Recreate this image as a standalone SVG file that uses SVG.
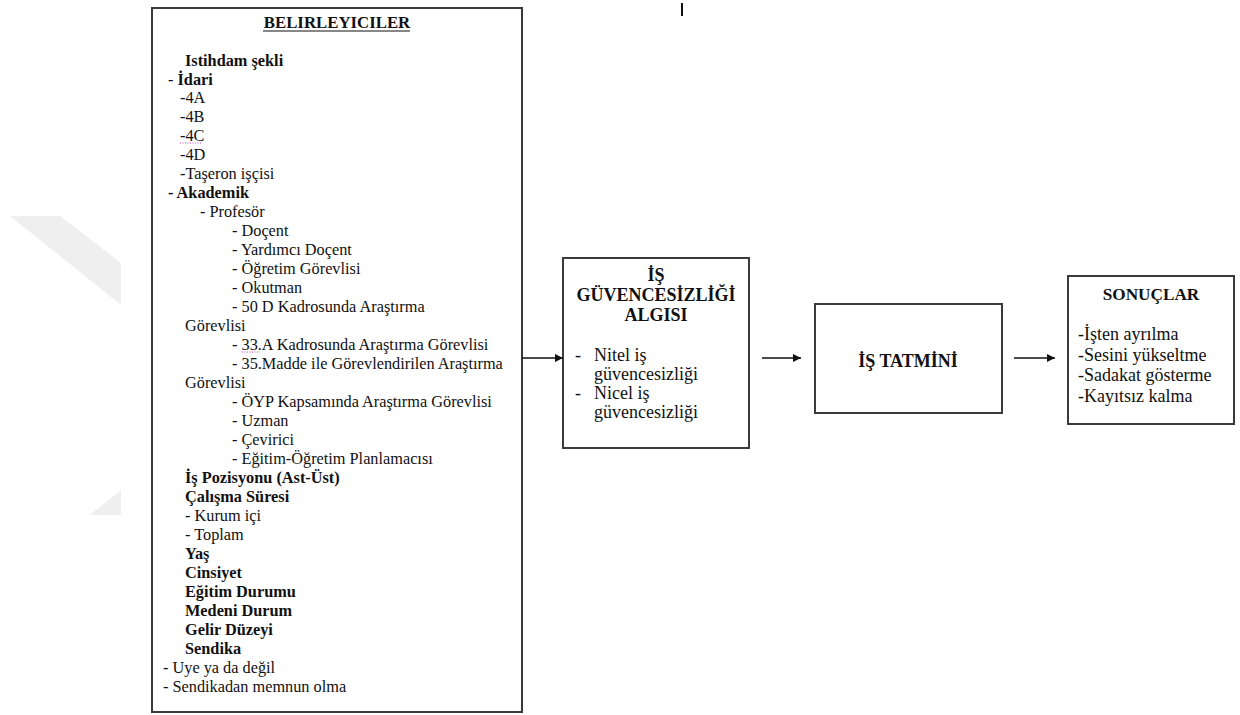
<svg xmlns="http://www.w3.org/2000/svg" width="1240" height="715" viewBox="0 0 1240 715">
<style>
.box{fill:#fff;stroke:#3a3a3a;stroke-width:2}
.t{font-family:"Liberation Serif","Times New Roman",serif;font-size:16.3px;fill:#111}
.b{font-weight:bold}
.m{font-family:"Liberation Serif","Times New Roman",serif;font-size:18px;fill:#111}
.c{text-anchor:middle}
.con{stroke:#111;stroke-width:1.5;fill:none}
.sp{stroke:#d040d0;stroke-width:1;stroke-dasharray:1,1.5}
</style>
<defs>
<marker id="ah" viewBox="0 0 10 10" refX="10" refY="5" markerWidth="9" markerHeight="8" markerUnits="userSpaceOnUse" orient="auto">
<path d="M0,0 L10,5 L0,10 z" fill="#111"/>
</marker>
</defs>
<rect width="1240" height="715" fill="#fff"/>
<g id="watermark" fill="#efefef">
<polygon points="10,216 60,216 121,263 121,305"/>
<polygon points="90,515 121,490 121,515"/>
</g>
<line x1="682" y1="3" x2="682" y2="16" stroke="#111" stroke-width="2"/>
<g id="belirleyiciler">
<rect class="box" x="152" y="8" width="370" height="704"/>
<text class="t b c" x="337" y="28" style="font-size:16.8px">BELIRLEYICILER</text>
<line x1="263" y1="31" x2="410" y2="31" stroke="#111" stroke-width="1.2"/>
<text class="t b" x="185" y="65.5">Istihdam şekli</text>
<text class="t" x="168" y="84.5">- <tspan class="b">İdari</tspan></text>
<text class="t" x="180" y="103.4">-4A</text>
<text class="t" x="180" y="122.4">-4B</text>
<text class="t" x="180" y="141.4">-4C</text>
<line class="sp" x1="180" y1="143" x2="202" y2="143"/>
<text class="t" x="180" y="160.4">-4D</text>
<text class="t" x="180" y="179.3">-Taşeron işçisi</text>
<text class="t b" x="168" y="198.3">- Akademik</text>
<text class="t" x="200" y="217.3">- Profesör</text>
<text class="t" x="232" y="236.2">- Doçent</text>
<text class="t" x="232" y="255.2">- Yardımcı Doçent</text>
<text class="t" x="232" y="274.2">- Öğretim Görevlisi</text>
<text class="t" x="232" y="293.1">- Okutman</text>
<text class="t" x="232" y="312.1">- 50 D Kadrosunda Araştırma</text>
<text class="t" x="185" y="331.1">Görevlisi</text>
<text class="t" x="232" y="350.1">- 33.A Kadrosunda Araştırma Görevlisi</text>
<line class="sp" x1="242" y1="352" x2="260" y2="352"/>
<text class="t" x="232" y="369">- 35.Madde ile Görevlendirilen Araştırma</text>
<text class="t" x="185" y="388">Görevlisi</text>
<text class="t" x="232" y="407">- ÖYP Kapsamında Araştırma Görevlisi</text>
<text class="t" x="232" y="425.9">- Uzman</text>
<text class="t" x="232" y="444.9">- Çevirici</text>
<text class="t" x="232" y="463.9">- Eğitim-Öğretim Planlamacısı</text>
<text class="t b" x="185" y="482.8">İş Pozisyonu (Ast-Üst)</text>
<text class="t b" x="185" y="501.8">Çalışma Süresi</text>
<text class="t" x="185" y="520.8">- Kurum içi</text>
<text class="t" x="185" y="539.8">- Toplam</text>
<text class="t b" x="185" y="558.7">Yaş</text>
<text class="t b" x="185" y="577.7">Cinsiyet</text>
<text class="t b" x="185" y="596.7">Eğitim Durumu</text>
<text class="t b" x="185" y="615.6">Medeni Durum</text>
<text class="t b" x="185" y="634.6">Gelir Düzeyi</text>
<text class="t b" x="185" y="653.6">Sendika</text>
<text class="t" x="163" y="672.5">- Uye ya da değil</text>
<text class="t" x="163" y="691.5">- Sendikadan memnun olma</text>
</g>
<g id="is-guvencesizligi">
<rect class="box" x="563" y="258" width="186" height="190"/>
<text class="m b c" x="656" y="281">İŞ</text>
<text class="m b c" x="656" y="301">GÜVENCESİZLİĞİ</text>
<text class="m b c" x="656" y="321">ALGISI</text>
<text class="m" x="575" y="361">-</text>
<text class="m" x="594" y="361">Nitel iş</text>
<text class="m" x="594" y="380">güvencesizliği</text>
<text class="m" x="575" y="399">-</text>
<text class="m" x="594" y="399">Nicel iş</text>
<text class="m" x="594" y="418">güvencesizliği</text>
</g>
<g id="is-tatmini">
<rect class="box" x="815" y="304" width="187" height="109"/>
<text class="m b c" x="908" y="367">İŞ TATMİNİ</text>
</g>
<g id="sonuclar">
<rect class="box" x="1068" y="276" width="166" height="148"/>
<text class="m b c" x="1151" y="300" style="font-size:17.2px">SONUÇLAR</text>
<text class="m" x="1078" y="340">-İşten ayrılma</text>
<text class="m" x="1078" y="360.5">-Sesini yükseltme</text>
<text class="m" x="1078" y="381">-Sadakat gösterme</text>
<text class="m" x="1078" y="401.5">-Kayıtsız kalma</text>
</g>
<g id="connectors">
<line class="con" x1="522" y1="358" x2="563" y2="358" marker-end="url(#ah)"/>
<line class="con" x1="762" y1="358" x2="801" y2="358" marker-end="url(#ah)"/>
<line class="con" x1="1014" y1="358" x2="1055" y2="358" marker-end="url(#ah)"/>
</g>
</svg>
